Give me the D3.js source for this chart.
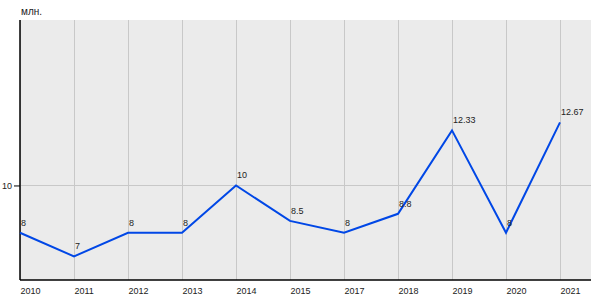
<!DOCTYPE html>
<html>
<head>
<meta charset="utf-8">
<script src="https://cdn.jsdelivr.net/npm/d3@7"></script>
<style>
  body { margin: 0; background: #fff; }
  text { font-family: "Liberation Sans", Arial, sans-serif; }
</style>
</head>
<body>
<div class="main"></div>
<script>
// Data
let years = ["2010", "2011", "2012", "2013", "2014", "2015", "2017", "2018", "2019", "2020", "2021"];
let values = [8, 7, 8, 8, 10, 8.5, 8, 8.8, 12.33, 8, 12.67];
let y_ticks = [10];
let unit_label = "млн.";

let width = 600, height = 300;
let margin = { top: 20, right: 9, bottom: 20, left: 20 };

let svg = d3.select("div.main").append("svg")
    .attr("width", width)
    .attr("height", height);

// Plot area
let x = d3.scalePoint()
    .domain(years)
    .range([margin.left, margin.left + 54 * (years.length - 1)]);

let y = d3.scaleLinear()
    .domain([6, 17])
    .range([height - margin.bottom, margin.top]);

svg.append("rect")
    .attr("x", margin.left)
    .attr("y", margin.top)
    .attr("width", width - margin.left - margin.right)
    .attr("height", height - margin.top - margin.bottom)
    .attr("fill", "#ebebeb");

// Grid lines
svg.append("g")
    .selectAll("line")
    .data(years)
    .join("line")
    .attr("x1", d => x(d)).attr("x2", d => x(d))
    .attr("y1", margin.top).attr("y2", height - margin.bottom)
    .attr("stroke", "#c8c8c8")
    .attr("stroke-width", 1)
    .attr("shape-rendering", "crispEdges");

svg.append("g")
    .selectAll("line")
    .data(y_ticks)
    .join("line")
    .attr("x1", margin.left).attr("x2", width - margin.right)
    .attr("y1", d => y(d)).attr("y2", d => y(d))
    .attr("stroke", "#c8c8c8")
    .attr("shape-rendering", "crispEdges");

// Axes - year labels sit to the right of their grid line
let xAxis = svg.append("g")
    .attr("transform", "translate(0," + (height - margin.bottom) + ")")
    .call(d3.axisBottom(x).tickSize(0).tickPadding(8));
xAxis.select(".domain")
    .attr("d", "M" + margin.left + ",0H" + (width - margin.right))
    .attr("stroke", "#000")
    .attr("stroke-width", 1.5);
xAxis.selectAll("text")
    .attr("text-anchor", "start")
    .attr("font-size", 9)
    .attr("fill", "#222");

let yAxis = svg.append("g")
    .attr("transform", "translate(" + margin.left + ",0)")
    .call(d3.axisLeft(y).tickValues(y_ticks).tickSize(6).tickPadding(2));
yAxis.select(".domain")
    .attr("d", "M0," + margin.top + "V" + (height - margin.bottom))
    .attr("stroke", "#000")
    .attr("stroke-width", 1.5);
yAxis.selectAll("text")
    .attr("font-size", 9)
    .attr("fill", "#222");

// Unit label
svg.append("text")
    .attr("x", margin.left + 1)
    .attr("y", 15)
    .attr("font-size", 10)
    .attr("fill", "#222")
    .text(unit_label);

// Line
let line = d3.line()
    .x((d, i) => x(years[i]))
    .y(d => y(d));

svg.append("path")
    .datum(values)
    .attr("d", line)
    .attr("fill", "none")
    .attr("stroke", "#0047e6")
    .attr("stroke-width", 2);

// Value labels
svg.append("g")
    .selectAll("text")
    .data(values)
    .join("text")
    .attr("x", (d, i) => x(years[i]) + 1)
    .attr("y", d => y(d) - 7)
    .attr("font-size", 9)
    .attr("fill", "#222")
    .text(d => d);
</script>
</body>
</html>
